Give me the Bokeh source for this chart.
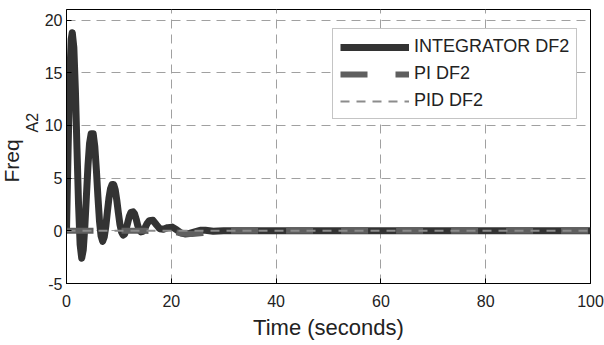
from bokeh.plotting import figure
from bokeh.models import Range1d, FixedTicker, Legend, LegendItem, Title, CustomJSTickFormatter
from bokeh.embed import file_html
from bokeh.resources import INLINE

# ---- data ----
t_int = [0, 0.3, 0.6, 0.9, 1.1, 1.4, 1.7, 2.0, 2.3, 2.6, 2.9, 3.2, 3.5, 3.8, 4.1, 4.4, 4.7,
         5.1, 5.4, 5.7, 6.0, 6.3, 6.6, 6.9, 7.2, 7.5, 7.8, 8.1, 8.4, 8.7, 9.0, 9.3, 9.6, 9.9,
         10.2, 10.5, 10.8, 11.1, 11.4, 11.7, 12.0, 12.3, 12.7, 13.0, 13.3, 13.6, 13.9, 14.2,
         14.6, 15.0, 15.4, 15.8, 16.5, 17.2, 17.8, 18.5, 19.3, 20.2, 21.0, 21.8, 22.6, 23.5,
         24.5, 25.5, 26.5, 28, 30, 35, 40, 100]
v_int = [0, 7.6, 14.3, 18.2, 18.8, 17.4, 13.3, 7.8, 2.5, -1.3, -2.6, -1.8, 0.4, 3.3, 6.2, 8.3, 9.2,
         9.2, 8.0, 5.8, 3.2, 0.9, -0.5, -1.0, -0.6, 0.4, 1.8, 3.1, 4.0, 4.4, 4.4, 3.9, 2.9, 1.7,
         0.6, -0.1, -0.4, -0.3, 0.2, 0.8, 1.4, 1.75, 1.8, 1.6, 1.1, 0.5, 0.1, -0.1,
         -0.05, 0.3, 0.7, 0.95, 1.0, 0.55, 0.2, 0.15, 0.3, 0.35, 0.1, -0.2, -0.3, -0.25,
         -0.1, 0.05, 0.05, -0.05, 0.0, 0.0, 0.0, 0.0]

t_pi = [0, 5, 10, 15, 20, 22, 24, 26, 28, 30, 100]
v_pi = [0, 0, 0, 0, -0.05, -0.25, -0.3, -0.2, -0.05, 0, 0]

t_pid = [0, 100]
v_pid = [0, 0]

x_ticks = [0, 20, 40, 60, 80, 100]
y_ticks = [-5, 0, 5, 10, 15, 20]

FONT = "Liberation Sans"
TXT = "#222222"

p = figure(width=604, height=345, output_backend="svg", toolbar_location=None,
           x_range=Range1d(0, 100), y_range=Range1d(-5, 21),
           min_border_left=66, min_border_right=14, min_border_top=9, min_border_bottom=62)
p.background_fill_color = "white"
p.border_fill_color = "white"
p.outline_line_color = "black"
p.outline_line_width = 1

for ax in (p.xaxis[0], p.yaxis[0]):
    ax.major_tick_in = 5
    ax.major_tick_out = 0
    ax.minor_tick_in = 0
    ax.minor_tick_out = 0
    ax.axis_line_color = "black"
    ax.major_tick_line_color = "black"
    ax.major_label_text_font = FONT
    ax.major_label_text_font_size = "16px"
    ax.major_label_text_color = TXT
p.xaxis[0].ticker = FixedTicker(ticks=x_ticks)
p.yaxis[0].ticker = FixedTicker(ticks=y_ticks)
p.yaxis[0].formatter = CustomJSTickFormatter(code="return tick.toString();")
p.xaxis[0].major_label_standoff = 11
p.yaxis[0].major_label_standoff = 4

p.xaxis[0].axis_label = "Time (seconds)"
p.xaxis[0].axis_label_text_font = FONT
p.xaxis[0].axis_label_text_font_size = "22px"
p.xaxis[0].axis_label_text_font_style = "normal"
p.xaxis[0].axis_label_text_color = TXT
p.xaxis[0].axis_label_standoff = 5

# y-axis title "Freq" with subscript "A2", drawn as two side titles
t_a2 = Title(text="A2", align="left", offset=151, standoff=2, text_font=FONT,
             text_font_size="16px", text_font_style="normal", text_color=TXT)
t_freq = Title(text="Freq", align="left", offset=101, standoff=-5, text_font=FONT,
               text_font_size="21px", text_font_style="normal", text_color=TXT)
p.add_layout(t_a2, "left")
p.add_layout(t_freq, "left")

p.xgrid.ticker = FixedTicker(ticks=x_ticks)
p.ygrid.ticker = FixedTicker(ticks=y_ticks)
for g in (p.xgrid[0], p.ygrid[0]):
    g.grid_line_color = "#a0a0a0"
    g.grid_line_dash = "9 6"
    g.grid_line_width = 1

r1 = p.line(t_int, v_int, line_color="#333333", line_width=7, line_join="round")
r2 = p.line(t_pi, v_pi, line_color="#5f5f5f", line_width=6, line_dash="27 28")
r3 = p.line(t_pid, v_pid, line_color="#8c8c8c", line_width=2, line_dash="9 7")

legend = Legend(items=[LegendItem(label="INTEGRATOR DF2", renderers=[r1]),
                       LegendItem(label="PI DF2", renderers=[r2]),
                       LegendItem(label="PID DF2", renderers=[r3])],
                location=(266, 164), glyph_width=69, glyph_height=20, label_height=20,
                label_standoff=5, padding=7, spacing=6, margin=0,
                border_line_color="#8a8a8a", border_line_width=1,
                background_fill_color="white", background_fill_alpha=1,
                label_text_font=FONT, label_text_font_size="18px", label_text_color=TXT)
p.add_layout(legend)

open("out.html", "w").write(file_html(p, INLINE))
